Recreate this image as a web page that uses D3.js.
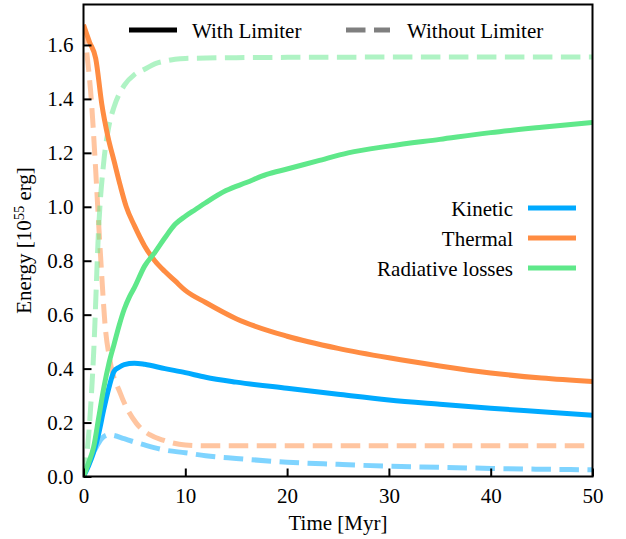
<!DOCTYPE html>
<html><head><meta charset="utf-8">
<script src="https://cdn.jsdelivr.net/npm/d3@7"></script>
<style>body{margin:0;background:#fff;} text{font-family:"Liberation Serif","Times New Roman",serif;}</style>
</head><body><div id="chart"></div>
<script>
const xTicks = [0, 10, 20, 30, 40, 50];
const yTicks = [0.0, 0.2, 0.4, 0.6, 0.8, 1.0, 1.2, 1.4, 1.6];

// With limiter (solid)
const kineticT = [0, 0.5, 1, 1.5, 2, 2.5, 3, 3.5, 4, 5, 6, 8, 10, 12, 15, 20, 25, 30, 35, 40, 45, 50];
const kineticV = [0, 0.04, 0.09, 0.16, 0.25, 0.33, 0.39, 0.405, 0.415, 0.42, 0.416, 0.40, 0.385, 0.368, 0.35, 0.327, 0.305, 0.284, 0.268, 0.253, 0.24, 0.227];

const thermalT = [0, 0.6, 1.2, 1.8, 2.4, 3, 3.6, 4.2, 5, 6, 7, 8, 9, 10, 12, 15, 20, 25, 30, 35, 40, 45, 50];
const thermalV = [1.675, 1.61, 1.55, 1.38, 1.26, 1.17, 1.08, 1.00, 0.93, 0.855, 0.80, 0.76, 0.725, 0.69, 0.645, 0.585, 0.52, 0.475, 0.44, 0.41, 0.384, 0.365, 0.352];

const radT = [0, 0.5, 1, 1.5, 2, 2.5, 3, 3.5, 4, 4.5, 5, 6, 7, 8, 9, 10, 11, 12, 14, 16, 18, 20, 23, 26, 30, 35, 40, 45, 50];
const radV = [0, 0.05, 0.11, 0.22, 0.33, 0.42, 0.49, 0.56, 0.62, 0.665, 0.70, 0.78, 0.83, 0.885, 0.935, 0.965, 0.99, 1.015, 1.06, 1.09, 1.12, 1.14, 1.17, 1.20, 1.225, 1.25, 1.275, 1.295, 1.313];

// Without limiter (dashed)
const kineticNoT = [0, 0.5, 1, 1.5, 2, 2.5, 3, 4, 5, 6, 8, 10, 12, 15, 20, 25, 30, 35, 40, 45, 50];
const kineticNoV = [0, 0.05, 0.09, 0.125, 0.148, 0.155, 0.152, 0.14, 0.128, 0.117, 0.098, 0.088, 0.077, 0.067, 0.053, 0.045, 0.038, 0.034, 0.030, 0.027, 0.025];

const thermalNoT = [0, 0.3, 0.8, 1.1, 1.5, 1.8, 2.1, 2.6, 3.6, 5.2, 6.5, 7.8, 10, 12, 20, 30, 40, 50];
const thermalNoV = [1.675, 1.58, 1.38, 1.20, 0.93, 0.74, 0.57, 0.43, 0.31, 0.197, 0.155, 0.135, 0.117, 0.114, 0.114, 0.114, 0.114, 0.114];

const radNoT = [0, 0.5, 1, 1.5, 2, 2.5, 3, 4, 5, 6, 7, 8, 9, 10, 15, 20, 30, 40, 50];
const radNoV = [0, 0.15, 0.46, 0.93, 1.17, 1.30, 1.37, 1.45, 1.49, 1.51, 1.53, 1.54, 1.547, 1.55, 1.553, 1.554, 1.555, 1.555, 1.555];

const seriesNames = ["Kinetic", "Thermal", "Radiative losses"];
const seriesColors = ["#00aaff", "#ff8c42", "#5fe88a"];
const styleNames = ["With Limiter", "Without Limiter"];

const W = 626, H = 539;
const m = {left: 83.5, right: 33.5, top: 4.5, bottom: 62.5};
const svg = d3.select("#chart").append("svg").attr("width", W).attr("height", H);

const x = d3.scaleLinear().domain([0, 50]).range([m.left, W - m.right]);
const y = d3.scaleLinear().domain([0, 1.75]).range([H - m.bottom, m.top]);

svg.append("clipPath").attr("id", "clip").append("rect")
  .attr("x", m.left).attr("y", m.top).attr("width", W - m.left - m.right).attr("height", H - m.top - m.bottom);

const line = d3.line().x(d => x(d[0])).y(d => y(d[1])).curve(d3.curveMonotoneX);
const zip = (a, b) => a.map((v, i) => [v, b[i]]);

const solid = [zip(kineticT, kineticV), zip(thermalT, thermalV), zip(radT, radV)];
const dashed = [zip(kineticNoT, kineticNoV), zip(thermalNoT, thermalNoV), zip(radNoT, radNoV)];

const g = svg.append("g").attr("clip-path", "url(#clip)");
dashed.forEach((d, i) => {
  g.append("path").datum(d).attr("d", line).attr("fill", "none")
    .attr("stroke", seriesColors[i]).attr("stroke-opacity", 0.5)
    .attr("stroke-width", 5).attr("stroke-dasharray", "19.5,8.5");
});
solid.forEach((d, i) => {
  g.append("path").datum(d).attr("d", line).attr("fill", "none")
    .attr("stroke", seriesColors[i]).attr("stroke-width", 5).attr("stroke-linejoin", "round");
});

// axes
const fs = "21px";
const xAxis = d3.axisBottom(x).tickValues(xTicks).tickSizeInner(-8).tickSizeOuter(0).tickPadding(12).tickFormat(d3.format("d"));
const yAxis = d3.axisLeft(y).tickValues(yTicks).tickSizeInner(-8).tickSizeOuter(0).tickPadding(10).tickFormat(d3.format(".1f"));
const gx = svg.append("g").attr("transform", `translate(0,${H - m.bottom})`).call(xAxis);
const gy = svg.append("g").attr("transform", `translate(${m.left},0)`).call(yAxis);
[gx, gy].forEach(a => {
  a.select(".domain").remove();
  a.selectAll(".tick line").attr("stroke", "#000").attr("stroke-width", 2);
  a.selectAll(".tick text").attr("fill", "#000").style("font-size", fs).style("font-family", "'Liberation Serif', serif");
});

// frame
svg.append("rect").attr("x", m.left).attr("y", m.top)
  .attr("width", W - m.left - m.right).attr("height", H - m.top - m.bottom)
  .attr("fill", "none").attr("stroke", "#000").attr("stroke-width", 2);

// axis labels
svg.append("text").attr("x", (m.left + W - m.right) / 2).attr("y", 530)
  .attr("text-anchor", "middle").style("font-size", fs).text("Time [Myr]");
const yl = svg.append("text").attr("transform", `translate(31,${(m.top + H - m.bottom) / 2}) rotate(-90)`)
  .attr("text-anchor", "middle").style("font-size", fs);
yl.append("tspan").text("Energy [10");
yl.append("tspan").attr("dy", -7).style("font-size", "14.5px").text("55");
yl.append("tspan").attr("dy", 7).text(" erg]");

// top legend (line style)
const l1 = svg.append("g");
l1.append("line").attr("x1", 129).attr("x2", 177).attr("y1", 30).attr("y2", 30)
  .attr("stroke", "#000").attr("stroke-width", 5);
l1.append("text").attr("x", 192).attr("y", 37.5).style("font-size", fs).text(styleNames[0]);
l1.append("line").attr("x1", 346).attr("x2", 390).attr("y1", 30).attr("y2", 30)
  .attr("stroke", "#000").attr("stroke-opacity", 0.5).attr("stroke-width", 5).attr("stroke-dasharray", "19.5,8.5");
l1.append("text").attr("x", 407).attr("y", 37.5).style("font-size", fs).text(styleNames[1]);

// right legend (series)
const l2 = svg.append("g");
seriesNames.forEach((n, i) => {
  const yy = 208 + i * 30;
  l2.append("line").attr("x1", 528).attr("x2", 576).attr("y1", yy).attr("y2", yy)
    .attr("stroke", seriesColors[i]).attr("stroke-width", 5);
  l2.append("text").attr("x", 513).attr("y", yy + 7.5).attr("text-anchor", "end").style("font-size", fs).text(n);
});
</script></body></html>
